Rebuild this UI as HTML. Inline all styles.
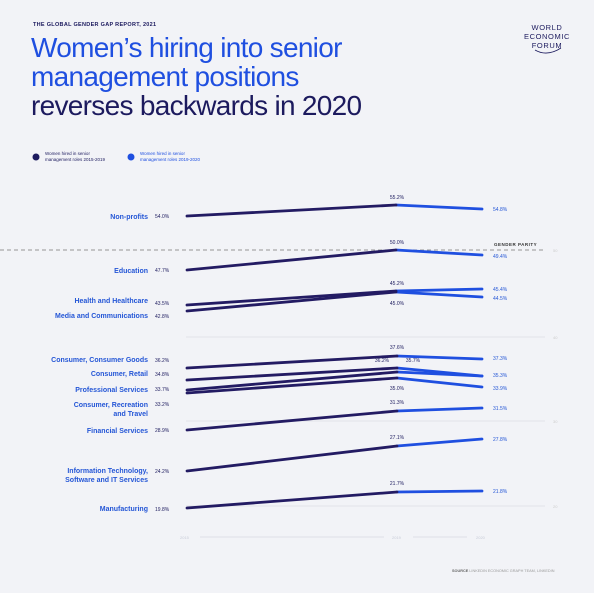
<!DOCTYPE html>
<html><head><meta charset="utf-8"><style>
html,body{margin:0;padding:0;background:#fff}
svg{display:block}
text{font-family:"Liberation Sans",Arial,sans-serif}
</style></head><body>
<svg width="600" height="593" viewBox="0 0 600 593" xmlns="http://www.w3.org/2000/svg">
<rect x="0" y="0" width="594" height="593" fill="#f2f3f7"/>
<text x="33" y="26" font-size="5.5" font-weight="bold" fill="#1c1a5e" letter-spacing="0.3">THE GLOBAL GENDER GAP REPORT, 2021</text>
<text x="31" y="57" font-size="28" fill="#1f4fe0" letter-spacing="-0.7">Women’s hiring into senior</text>
<text x="31" y="86" font-size="28" fill="#1f4fe0" letter-spacing="-0.7">management positions</text>
<text x="31" y="115" font-size="28" fill="#1c1a5e" letter-spacing="-0.7">reverses backwards in 2020</text>
<g font-size="7.5" fill="#1c1a5e" text-anchor="middle" letter-spacing="0.6">
<text x="547" y="30">WORLD</text><text x="547" y="39">ECONOMIC</text><text x="547" y="48">FORUM</text></g>
<path d="M535 50 Q547 57 561 48" stroke="#1c1a5e" stroke-width="0.8" fill="none"/>
<circle cx="36" cy="157" r="3.5" fill="#1c1a5e"/>
<text x="45" y="155" font-size="4.5" fill="#1c1a5e">Women hired in senior</text>
<text x="45" y="161" font-size="4.5" fill="#1c1a5e">management roles 2015-2019</text>
<circle cx="131" cy="157" r="3.5" fill="#1f4fe0"/>
<text x="140" y="155" font-size="4.5" fill="#1f4fe0">Women hired in senior</text>
<text x="140" y="161" font-size="4.5" fill="#1f4fe0">management roles 2019-2020</text>
<g stroke="#dcdee6" stroke-width="0.7">
<line x1="186" y1="337" x2="545" y2="337"/><line x1="186" y1="421" x2="545" y2="421"/><line x1="186" y1="506" x2="545" y2="506"/></g>
<line x1="0" y1="250" x2="545" y2="250" stroke="#777" stroke-width="0.8" stroke-dasharray="4,3"/>
<text x="494" y="246" font-size="4.5" font-weight="bold" fill="#333" letter-spacing="0.5">GENDER PARITY</text>
<g font-size="4" fill="#ccc"><text x="553" y="252">50</text><text x="553" y="339">40</text><text x="553" y="423">30</text><text x="553" y="508">20</text></g>
<g stroke-width="2.8" stroke-linecap="round" fill="none">
<g stroke="#1f4fe0">
<polyline points="396,205 482,209"/><polyline points="396,250 482,255"/>
<polyline points="396,291 482,289"/><polyline points="396,292 482,297"/>
<polyline points="397,356 482,359"/><polyline points="397,368 482,376"/><polyline points="397,372 482,376"/><polyline points="397,378 482,387"/>
<polyline points="397,411 482,408"/><polyline points="397,446 482,439"/><polyline points="397,492 482,491"/></g>
<g stroke="#231b63">
<polyline points="187,216 396,205"/><polyline points="187,270 396,250"/>
<polyline points="187,305 396,291"/><polyline points="187,311 396,292"/>
<polyline points="187,368 397,356"/><polyline points="187,380 397,368"/><polyline points="187,390 397,372"/><polyline points="187,393 397,378"/>
<polyline points="187,430 397,411"/><polyline points="187,471 397,446"/><polyline points="187,508 397,492"/></g></g>
<g font-size="7" font-weight="bold" fill="#2456d6" text-anchor="end">
<text x="148" y="219">Non-profits</text><text x="148" y="273">Education</text>
<text x="148" y="303">Health and Healthcare</text><text x="148" y="318">Media and Communications</text>
<text x="148" y="362">Consumer, Consumer Goods</text><text x="148" y="376">Consumer, Retail</text>
<text x="148" y="392">Professional Services</text><text x="148" y="407">Consumer, Recreation</text><text x="148" y="416">and Travel</text>
<text x="148" y="433">Financial Services</text><text x="148" y="473">Information Technology,</text><text x="148" y="482">Software and IT Services</text>
<text x="148" y="511">Manufacturing</text></g>
<g font-size="5" fill="#1c1a5e">
<text x="155" y="218">54.0%</text><text x="155" y="272">47.7%</text><text x="155" y="305">43.5%</text><text x="155" y="318">42.8%</text>
<text x="155" y="362">36.2%</text><text x="155" y="376">34.8%</text><text x="155" y="391">33.7%</text><text x="155" y="406">33.2%</text>
<text x="155" y="432">28.9%</text><text x="155" y="473">24.2%</text><text x="155" y="511">19.8%</text></g>
<g font-size="5" fill="#1c1a5e" text-anchor="middle">
<text x="397" y="199">55.2%</text><text x="397" y="244">50.0%</text><text x="397" y="285">45.2%</text><text x="397" y="305">45.0%</text>
<text x="397" y="349">37.6%</text><text x="382" y="362">36.2%</text><text x="413" y="362">35.7%</text><text x="397" y="390">35.0%</text>
<text x="397" y="404">31.3%</text><text x="397" y="439">27.1%</text><text x="397" y="485">21.7%</text></g>
<g font-size="5" fill="#2456d6">
<text x="493" y="211">54.8%</text><text x="493" y="258">49.4%</text><text x="493" y="291">45.4%</text><text x="493" y="300">44.5%</text>
<text x="493" y="360">37.3%</text><text x="493" y="377">35.3%</text><text x="493" y="390">33.9%</text><text x="493" y="410">31.5%</text>
<text x="493" y="441">27.8%</text><text x="493" y="493">21.8%</text></g>
<g font-size="4" fill="#c8ccd8"><text x="180" y="539">2015</text><text x="392" y="539">2019</text><text x="476" y="539">2020</text></g>
<g stroke="#c8ccd8" stroke-width="0.6"><line x1="200" y1="537" x2="384" y2="537"/><line x1="413" y1="537" x2="467" y2="537"/></g>
<text x="452" y="572" font-size="3.8" fill="#999"><tspan font-weight="bold" fill="#666">SOURCE</tspan> LINKEDIN ECONOMIC GRAPH TEAM, LINKEDIN</text>
</svg>
</body></html>
